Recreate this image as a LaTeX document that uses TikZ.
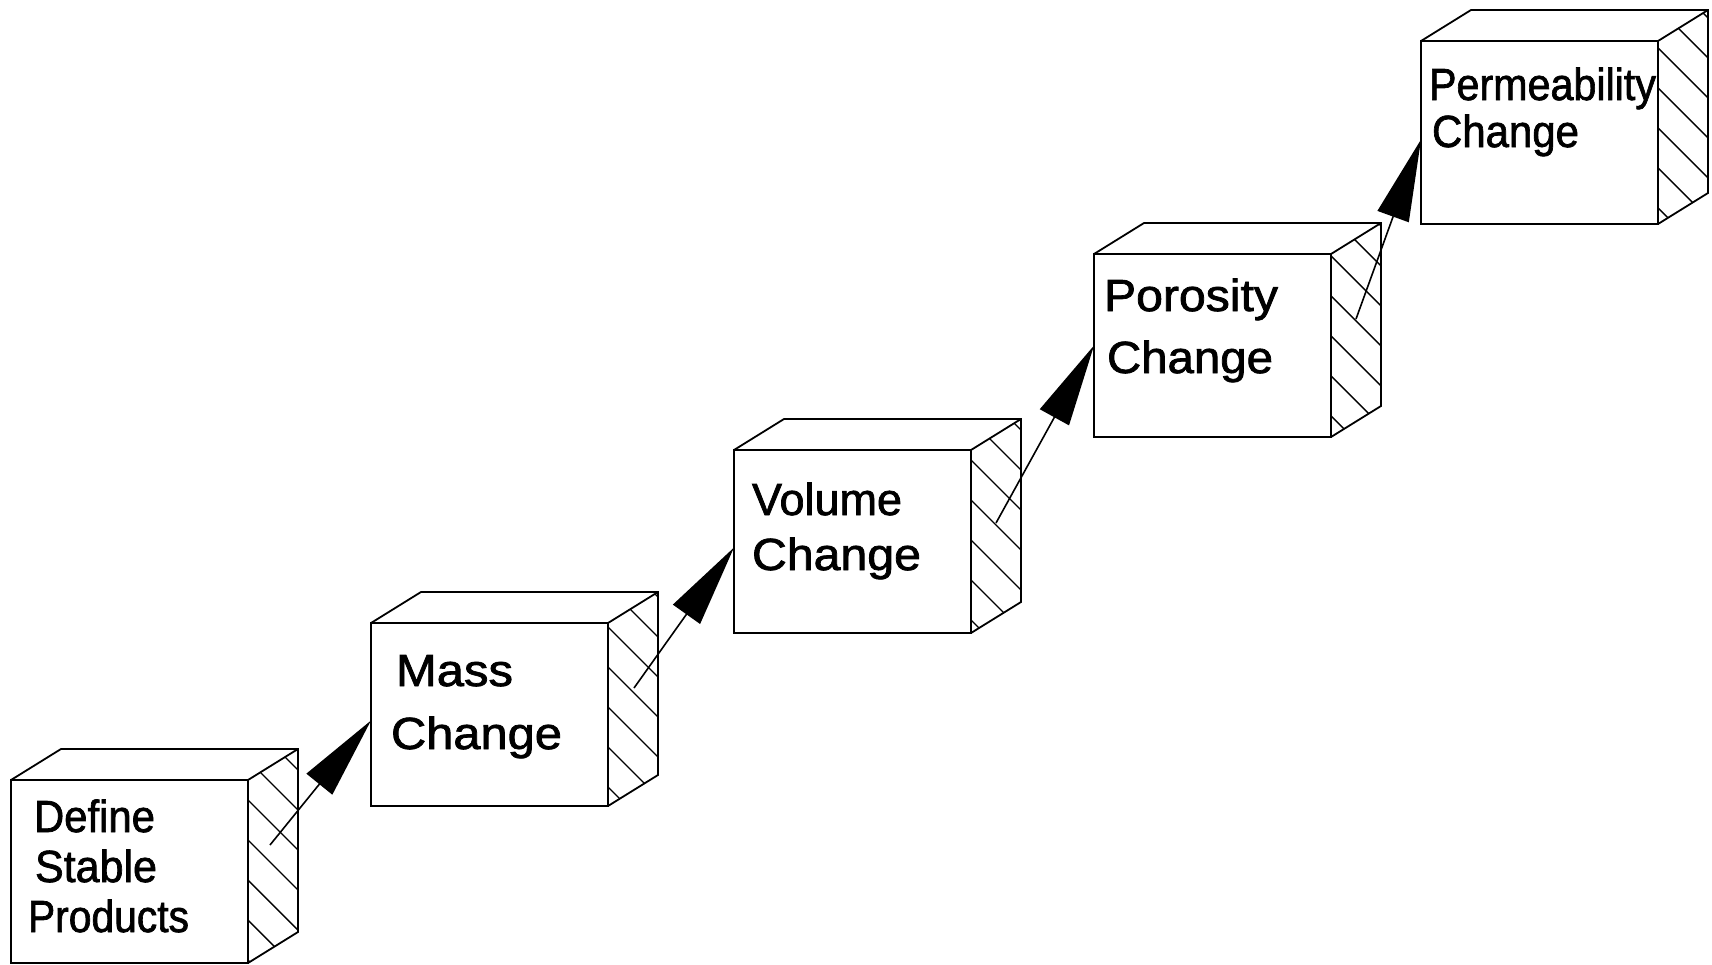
\documentclass[tikz,border=0pt]{standalone}
\usepackage{fontspec}
\usepackage{graphicx}
\usetikzlibrary{arrows.meta,calc}
\newfontfamily\lab[FakeBold=1.6]{Liberation Sans}

% block geometry (pt): front width/height, depth offset
\def\fw{237}
\def\fh{183}
\def\dx{50}
\def\dy{31}

\tikzset{
  face/.style={draw, line width=1.8pt, minimum width=\fw pt, minimum height=\fh pt,
    inner sep=0pt, outer sep=0pt, anchor=north west},
  edge/.style={line width=1.8pt, line join=miter},
  hatch/.style={line width=1.4pt},
  lbl/.style={anchor=base west, inner sep=0pt, outer sep=0pt,
    font=\lab\fontsize{45}{54}\selectfont},
  flow/.style={line width=1.6pt, -{Triangle[length=82pt,width=33pt]}},
}

% one block: #1 name, #2 left x, #3 top y, #4 hatch offset
\newcommand{\stepblock}[4]{%
  \node[face] (#1) at (#2,#3) {};
  \draw[edge] (#1.north west) -- ++(\dx,-\dy) -- ++(\fw,0) -- ++(0,\fh) -- (#1.south east);
  \draw[edge] (#1.north east) -- ++(\dx,-\dy);
  \begin{scope}
    \clip (#1.north east) -- ++(\dx,-\dy) -- ++(0,\fh) -- (#1.south east) -- cycle;
    \foreach \k in {-2,...,5}
      \draw[hatch] ($(#1.north east)+(-20,#4+40*\k-20)$) -- ++(100,100);
  \end{scope}
}

\begin{document}
\begin{tikzpicture}[x=1pt,y=-1pt]
  \path[use as bounding box] (0,0) rectangle (1712,964);

  \stepblock{define}{11}{780}{20}
  \stepblock{mass}{371}{623}{4}
  \stepblock{volume}{734}{450}{10}
  \stepblock{porosity}{1094}{254}{2}
  \stepblock{perm}{1421}{41}{7}

  % labels
  \node[lbl] (defA) at (34,832)  {\resizebox{121pt}{\height}{Define}};
  \node[lbl] (defB) at (35,882)  {\resizebox{122pt}{\height}{Stable}};
  \node[lbl] (defC) at (28,932)  {\resizebox{161pt}{\height}{Products}};
  \node[lbl] (masA) at (396,686) {\resizebox{117pt}{\height}{Mass}};
  \node[lbl] (masB) at (391,749) {\resizebox{171pt}{\height}{Change}};
  \node[lbl] (volA) at (752,515) {\resizebox{150pt}{\height}{Volume}};
  \node[lbl] (volB) at (752,570) {\resizebox{169pt}{\height}{Change}};
  \node[lbl] (porA) at (1104,311) {\resizebox{174pt}{\height}{Porosity}};
  \node[lbl] (porB) at (1107,373) {\resizebox{166pt}{\height}{Change}};
  \node[lbl] (perA) at (1429,100)  {\resizebox{227pt}{\height}{Permeability}};
  \node[lbl] (perB) at (1432,147) {\resizebox{147pt}{\height}{Change}};

  % arrow tails sit on the hatched side faces
  \coordinate (t1) at ($(define.north east)+(22,65)$);
  \coordinate (t2) at ($(mass.north east)+(26,65)$);
  \coordinate (t3) at ($(volume.north east)+(25,73)$);
  \coordinate (t4) at ($(porosity.north east)+(25,65)$);

  \draw[flow] (t1) -- ($(mass.west)+(0,6)$);
  \draw[flow] (t2) -- ($(volume.west)+(0,6)$);
  \draw[flow] (t3) -- ($(porosity.west)+(0,0)$);
  \draw[flow] (t4) -- ($(perm.west)+(0,7)$);
\end{tikzpicture}
\end{document}
